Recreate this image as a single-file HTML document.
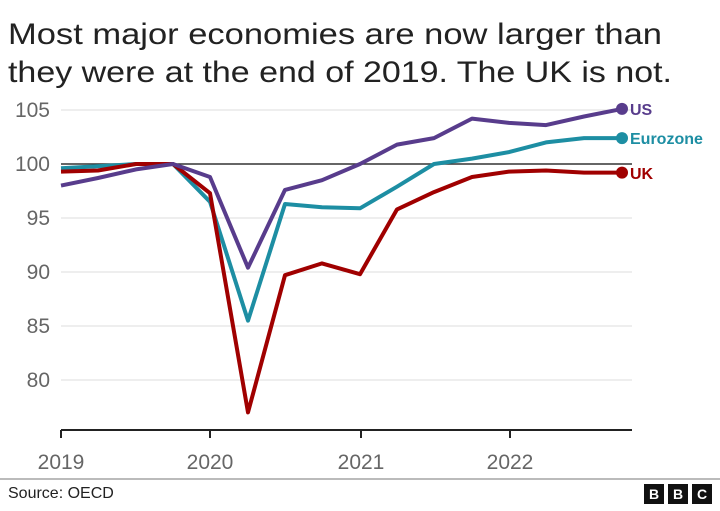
<!DOCTYPE html><html><head><style>body{margin:0;background:#fff;width:720px;height:506px;overflow:hidden;font-family:"Liberation Sans",sans-serif}</style></head><body>
<svg width="720" height="506" xmlns="http://www.w3.org/2000/svg" font-family="Liberation Sans, sans-serif">
<text x="8" y="44" font-size="30" fill="#222" textLength="654" lengthAdjust="spacingAndGlyphs">Most major economies are now larger than</text>
<text x="8" y="82" font-size="30" fill="#222" textLength="664" lengthAdjust="spacingAndGlyphs">they were at the end of 2019. The UK is not.</text>
<g stroke="#ddd" stroke-width="1">
<line x1="61" x2="632" y1="110" y2="110"/><line x1="61" x2="632" y1="218" y2="218"/><line x1="61" x2="632" y1="272" y2="272"/><line x1="61" x2="632" y1="326" y2="326"/><line x1="61" x2="632" y1="380" y2="380"/></g>
<line x1="61" x2="632" y1="164" y2="164" stroke="#333" stroke-width="1.5"/>
<g font-size="21" fill="#666" text-anchor="end">
<text x="50" y="117">105</text><text x="50" y="171">100</text><text x="50" y="225">95</text><text x="50" y="279">90</text><text x="50" y="333">85</text><text x="50" y="387">80</text></g>
<g stroke="#222" stroke-width="2"><line x1="61" x2="632" y1="430" y2="430"/><line x1="61" x2="61" y1="430" y2="438"/><line x1="210" x2="210" y1="430" y2="438"/><line x1="361" x2="361" y1="430" y2="438"/><line x1="510" x2="510" y1="430" y2="438"/></g>
<g font-size="21" fill="#666" text-anchor="middle"><text x="61" y="469">2019</text><text x="210" y="469">2020</text><text x="361" y="469">2021</text><text x="510" y="469">2022</text></g>
<g fill="none" stroke-width="4" stroke-linejoin="round">
<polyline stroke="#1d8ea3" points="61,168.3 98,166.2 136,164 173,164 210,201.8 248,320.6 285,204 322,207.3 360,208.3 397,186.7 434,164 472,158.6 509,152.1 546,142.4 584,138.1 622,138.1"/>
<polyline stroke="#a00000" points="61,171.6 98,170.5 136,164 173,164 210,193.2 248,412.4 285,275.2 322,263.4 360,274.2 397,209.4 434,192.1 472,177 509,171.6 546,170.5 584,172.6 622,172.6"/>
<polyline stroke="#583c8c" points="61,185.6 98,178 136,169.4 173,164 210,177 248,267.7 285,189.9 322,180.2 360,164 397,144.6 434,138.1 472,118.6 509,122.9 546,125.1 584,116.5 622,108.9"/>
</g>
<circle cx="622" cy="108.9" r="6" fill="#583c8c"/><circle cx="622" cy="138.1" r="6" fill="#1d8ea3"/><circle cx="622" cy="172.6" r="6" fill="#a00000"/>
<g font-size="16" font-weight="bold"><text x="630" y="115" fill="#583c8c">US</text><text x="630" y="144" fill="#1d8ea3">Eurozone</text><text x="630" y="179" fill="#a00000">UK</text></g>
<rect x="0" y="478" width="720" height="2" fill="#bbb"/>
<text x="8" y="498" font-size="16" fill="#222">Source: OECD</text>
<g><rect x="644" y="484" width="20" height="20" fill="#111"/><rect x="668" y="484" width="20" height="20" fill="#111"/><rect x="692" y="484" width="20" height="20" fill="#111"/>
<g fill="#fff" font-size="14" font-weight="bold" text-anchor="middle"><text x="654" y="499">B</text><text x="678" y="499">B</text><text x="702" y="499">C</text></g></g>
</svg></body></html>
